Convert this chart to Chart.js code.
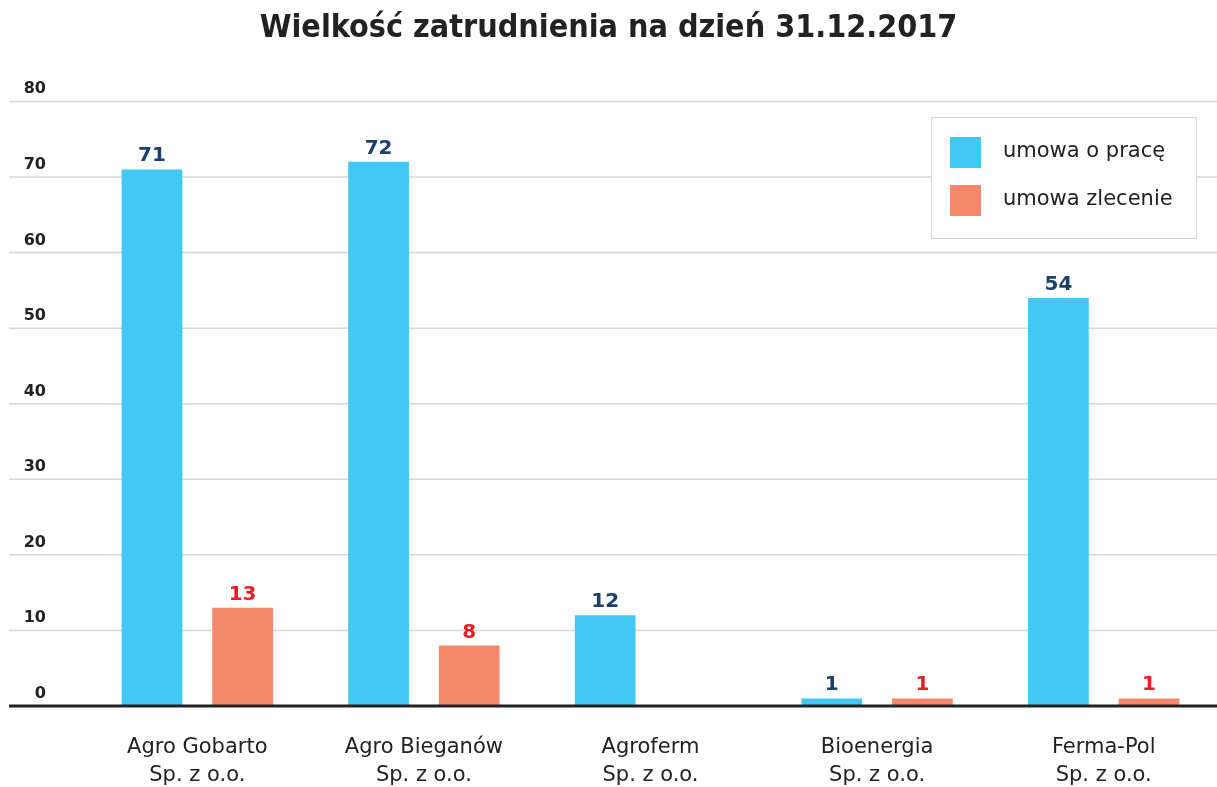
<!DOCTYPE html>
<html lang="pl">
<head>
<meta charset="utf-8">
<title>Wielkość zatrudnienia</title>
<script src="https://cdn.jsdelivr.net/npm/chart.js@4"></script>
<style>
  html, body { margin: 0; padding: 0; background: #fff; }
  #wrap { width: 1217px; height: 787px; }
</style>
</head>
<body>
<div id="wrap"><canvas id="chart"></canvas></div>
<script>
const categories = [
    ['Agro Gobarto', 'Sp. z o.o.'],
    ['Agro Bieganów', 'Sp. z o.o.'],
    ['Agroferm', 'Sp. z o.o.'],
    ['Bioenergia', 'Sp. z o.o.'],
    ['Ferma-Pol', 'Sp. z o.o.']
];
const umowaOPrace = [71, 72, 12, 1, 54];
const umowaZlecenie = [13, 8, null, 1, 1];
const yTicks = [0, 10, 20, 30, 40, 50, 60, 70, 80];

const FONT = "'DejaVu Sans', Verdana, sans-serif";
const FONT_COND = "'DejaVu Sans Condensed', 'DejaVu Sans', sans-serif";
const labelColors = ['#1c3f6e', '#ec1c24'];

// grid lines, left tick labels and the baseline, drawn across the full width
const gridPlugin = {
    id: 'fullGrid',
    beforeDatasetsDraw(chart) {
        const { ctx, scales: { y } } = chart;
        ctx.save();
        yTicks.forEach(v => {
            const py = y.getPixelForValue(v);
            if (v !== 0) {
                ctx.strokeStyle = '#d6d6d6';
                ctx.lineWidth = 1.5;
                ctx.beginPath();
                ctx.moveTo(9, py);
                ctx.lineTo(chart.width, py);
                ctx.stroke();
            }
            ctx.fillStyle = '#222';
            ctx.font = 'bold 16px ' + FONT;
            ctx.textAlign = 'right';
            ctx.textBaseline = 'alphabetic';
            ctx.fillText(String(v), 46, py - 8);
        });
        ctx.restore();
    },
    afterDatasetsDraw(chart) {
        const { ctx, scales: { y } } = chart;
        const py = y.getPixelForValue(0);
        ctx.save();
        ctx.strokeStyle = '#222';
        ctx.lineWidth = 3;
        ctx.beginPath();
        ctx.moveTo(9, py);
        ctx.lineTo(chart.width, py);
        ctx.stroke();
        ctx.restore();
    }
};

const valueLabels = {
    id: 'valueLabels',
    afterDatasetsDraw(chart) {
        const { ctx } = chart;
        ctx.save();
        ctx.font = 'bold 20px ' + FONT;
        ctx.textAlign = 'center';
        ctx.textBaseline = 'alphabetic';
        chart.data.datasets.forEach((ds, i) => {
            const meta = chart.getDatasetMeta(i);
            ctx.fillStyle = labelColors[i];
            meta.data.forEach((bar, j) => {
                const v = ds.data[j];
                if (v === null) return;
                ctx.fillText(String(v), bar.x, bar.y - 8);
            });
        });
        ctx.restore();
    }
};

const boxLegend = {
    id: 'boxLegend',
    afterDraw(chart) {
        const { ctx } = chart;
        const x = 931, y = 117, w = 265, h = 121;
        ctx.save();
        ctx.fillStyle = '#fff';
        ctx.fillRect(x, y, w, h);
        ctx.strokeStyle = '#d6d6d6';
        ctx.lineWidth = 1;
        ctx.strokeRect(x + 0.5, y + 0.5, w, h);
        ctx.font = '21px ' + FONT;
        ctx.textAlign = 'left';
        ctx.textBaseline = 'middle';
        chart.data.datasets.forEach((ds, i) => {
            const ry = y + 20 + i * 48;
            ctx.fillStyle = ds.backgroundColor;
            ctx.fillRect(x + 19, ry, 31, 31);
            ctx.fillStyle = '#222';
            ctx.fillText(ds.label, x + 72, ry + 15);
        });
        ctx.restore();
    }
};

new Chart(document.getElementById('chart'), {
    type: 'bar',
    data: {
        labels: categories,
        datasets: [
            {
                label: 'umowa o pracę',
                data: umowaOPrace,
                backgroundColor: '#41c8f5'
            },
            {
                label: 'umowa zlecenie',
                data: umowaZlecenie,
                backgroundColor: '#f58869'
            }
        ]
    },
    options: {
        responsive: true,
        maintainAspectRatio: false,
        animation: false,
        datasets: {
            bar: { categoryPercentage: 0.8, barPercentage: 0.67 }
        },
        layout: { padding: 0 },
        scales: {
            x: {
                grid: { display: false, drawTicks: false },
                border: { display: false },
                ticks: {
                    color: '#222',
                    padding: 27,
                    font: { family: FONT, size: 21, lineHeight: 1.36 }
                },
                afterFit(scale) { scale.height = 81; }
            },
            y: {
                min: 0,
                max: 80,
                grid: { display: false, drawTicks: false },
                border: { display: false },
                ticks: { display: false },
                afterFit(scale) { scale.width = 84; }
            }
        },
        plugins: {
            legend: { display: false },
            tooltip: { enabled: false },
            title: {
                display: true,
                text: 'Wielkość zatrudnienia na dzień 31.12.2017',
                color: '#222',
                font: { family: FONT_COND, size: 32, weight: 'bold', lineHeight: 1.2 },
                padding: { top: 9, bottom: 54 }
            }
        }
    },
    plugins: [gridPlugin, valueLabels, boxLegend]
});
</script>
</body>
</html>
